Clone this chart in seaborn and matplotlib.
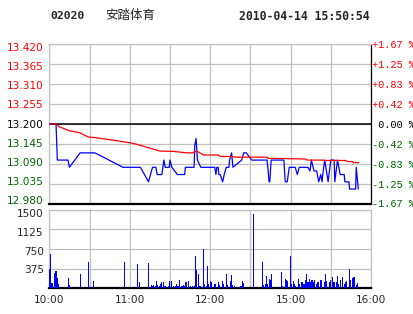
import numpy as np
import pandas as pd
import matplotlib
matplotlib.use("Agg")
import matplotlib.pyplot as plt
import matplotlib.transforms as mtransforms
import seaborn as sns

# ---------------- data ----------------
code = "02020"
name = "安踏体育"
stamp = "2010-04-14 15:50:54"
prev_close = 13.200
price_ticks = [12.980, 13.035, 13.090, 13.145, 13.200, 13.255, 13.310, 13.365, 13.420]
vol_ticks = [0, 375, 750, 1125, 1500]
vol_tick_labels = ["", "375", "750", "1125", "1500"]
time_grid = [0, 30, 60, 90, 120, 150, 180, 210, 240]
time_labels = ["10:00", "", "11:00", "", "12:00", "", "15:00", "", "16:00"]

price_min = [0, 5, 6, 14, 15, 23, 34, 55, 68, 74,
             77, 79.5, 80.5, 84, 85.5, 86.5, 89.5, 90, 91.5, 95.5,
             101, 101.5, 108, 108.5, 109.5, 110.5, 113, 123.5, 124.3, 125,
             126, 126.5, 127.5, 129.3, 130.5, 132, 134, 134.5, 136, 137,
             143.5, 145, 147, 149, 151, 162.5, 164, 164.5, 165.5, 175,
             176, 177.5, 179, 183.5, 185, 186.5, 193, 194.5, 195.5, 197.5,
             199.5, 201, 202.5, 203.5, 204, 205.5, 208, 210, 212.5, 213,
             215, 217, 220, 220.5, 223.5, 224, 228.5, 229, 230.5]
price_val = [13.20, 13.20, 13.10, 13.10, 13.08, 13.12, 13.12, 13.08, 13.08, 13.04,
             13.08, 13.08, 13.06, 13.06, 13.10, 13.08, 13.08, 13.10, 13.08, 13.06,
             13.06, 13.08, 13.08, 13.14, 13.16, 13.10, 13.08, 13.08, 13.06, 13.08,
             13.08, 13.06, 13.06, 13.04, 13.06, 13.08, 13.08, 13.10, 13.12, 13.08,
             13.10, 13.12, 13.12, 13.11, 13.10, 13.10, 13.04, 13.04, 13.10, 13.10,
             13.04, 13.04, 13.08, 13.08, 13.06, 13.08, 13.08, 13.07, 13.10, 13.07,
             13.07, 13.04, 13.06, 13.04, 13.06, 13.10, 13.04, 13.10, 13.10, 13.04,
             13.10, 13.06, 13.06, 13.04, 13.04, 13.02, 13.02, 13.08, 13.02]

avg_min = [0, 5, 7.5, 15, 22.5, 28.8, 34.5, 47.5, 60, 65,
           75, 82.5, 92.5, 102.5, 107, 110, 115, 126, 127.5, 135,
           140, 162.5, 163, 177.5, 191, 192.5, 204, 205, 221, 222.5,
           226, 227, 231]
avg_val = [13.200, 13.200, 13.192, 13.181, 13.176, 13.164, 13.162, 13.155, 13.148, 13.144,
           13.133, 13.125, 13.124, 13.120, 13.120, 13.125, 13.114, 13.114, 13.110, 13.110,
           13.108, 13.108, 13.105, 13.104, 13.103, 13.100, 13.100, 13.099, 13.099, 13.096,
           13.096, 13.093, 13.093]

vol_min = [0, 1, 2, 4, 5, 6, 7, 14, 15, 23,
           29, 33, 56, 66, 67, 74, 76, 77, 78, 79,
           80, 81, 82, 83, 84, 85, 86, 87, 89, 90,
           91, 93, 94, 95, 96, 97, 99, 100, 101, 102,
           104, 105, 107, 108, 109, 110, 111, 112, 113, 115,
           116, 117, 118, 119, 120, 121, 123, 124, 126, 127,
           129, 130, 132, 133, 135, 136, 137, 138, 143, 144,
           145, 152, 159, 160, 161, 162, 163, 164, 165, 166,
           173, 174, 176, 177, 178, 180, 181, 182, 183, 184,
           186, 187, 188, 189, 190, 191, 192, 193, 194, 195,
           196, 197, 198, 199, 200, 201, 202, 203, 205, 206,
           207, 209, 210, 211, 212, 213, 214, 215, 216, 217,
           219, 220, 221, 222, 224, 225, 226, 227, 228, 229,
           230]
vol_val = [369, 649, 102, 293, 331, 204, 83, 191, 64, 273,
           502, 134, 502, 464, 114, 483, 64, 51, 64, 51,
           140, 64, 51, 89, 114, 114, 45, 45, 45, 140,
           140, 45, 45, 89, 45, 153, 45, 64, 45, 114,
           140, 45, 45, 45, 617, 350, 273, 45, 45, 750,
           83, 45, 426, 76, 140, 121, 83, 83, 121, 64,
           140, 83, 273, 64, 140, 254, 64, 45, 45, 140,
           102, 1418, 502, 64, 83, 235, 83, 178, 159, 273,
           312, 45, 178, 159, 146, 617, 83, 140, 83, 45,
           178, 83, 121, 115, 83, 159, 273, 121, 178, 121,
           159, 121, 159, 83, 121, 121, 159, 159, 121, 273,
           140, 121, 159, 216, 121, 121, 121, 235, 83, 159,
           216, 83, 121, 140, 369, 159, 197, 216, 216, 64,
           102]

price_df = pd.DataFrame({"minute": price_min, "price": price_val})
avg_df = pd.DataFrame({"minute": avg_min, "avg": avg_val})
vol_df = pd.DataFrame({"minute": vol_min, "volume": vol_val})

# ---------------- styling ----------------
sns.set_style("white")
plt.rcParams["font.family"] = ["DejaVu Sans", "Noto Sans CJK SC"]

GRID = "#C0C0C0"
RED = "#FF0000"
GREEN = "#006400"
BLUE = "#0000FF"

W, H = 414, 314
DPI = 100
fig = plt.figure(figsize=(W / DPI, H / DPI), dpi=DPI)
fig.patch.set_facecolor("white")


def shift_px(label, dy_px):
    """shift a tick label down by dy_px pixels"""
    off = mtransforms.ScaledTranslation(0, -dy_px / DPI, fig.dpi_scale_trans)
    label.set_transform(label.get_transform() + off)


left_px, right_px = 49.3, 371.0
ax = fig.add_axes([left_px / W, 1 - 203.5 / H, (right_px - left_px) / W, (203.5 - 44.3) / H])
axv = fig.add_axes([left_px / W, 1 - 288.3 / H, (right_px - left_px) / W, (288.3 - 209.7) / H])

# ---- price panel ----
sns.lineplot(data=price_df, x="minute", y="price", ax=ax, color=BLUE, lw=0.9,
             estimator=None, sort=False, zorder=3)
sns.lineplot(data=avg_df, x="minute", y="avg", ax=ax, color=RED, lw=0.9,
             estimator=None, sort=False, zorder=4)
ax.axhline(prev_close, color="black", lw=1.1, zorder=2)
ax.set_xlim(0, 240)
ax.set_ylim(price_ticks[0], price_ticks[-1])
ax.set_xticks(time_grid)
ax.set_xticklabels([])
ax.set_yticks(price_ticks)
ax.set_yticklabels([f"{v:.3f}" for v in price_ticks])
ax.grid(True, color=GRID, lw=0.9, zorder=0)
ax.set_axisbelow(True)
ax.tick_params(axis="both", length=0)
ax.tick_params(axis="y", pad=4, labelsize=7.6)
n = len(price_ticks)
for i, (lbl, v) in enumerate(zip(ax.get_yticklabels(), price_ticks)):
    lbl.set_color(RED if v > prev_close else ("black" if v == prev_close else GREEN))
    k = n - 1 - i  # index from top
    shift_px(lbl, 2.4 - 0.7 * k)
ax.set_xlabel("")
ax.set_ylabel("")
for s in ["left", "top"]:
    ax.spines[s].set_color(GRID)
    ax.spines[s].set_linewidth(0.9)
ax.spines["right"].set_color("black")
ax.spines["right"].set_linewidth(0.9)
ax.spines["bottom"].set_color("black")
ax.spines["bottom"].set_linewidth(1.6)

# right percent axis
ax2 = ax.twinx()
ax2.set_ylim(ax.get_ylim())
ax2.set_yticks(price_ticks)
pct_labels = []
for v in price_ticks:
    p = (v - prev_close) / prev_close * 100
    if abs(p) < 0.005:
        pct_labels.append(" 0.00 %")
    else:
        pct_labels.append(f"{'+' if p > 0 else '-'}{abs(p):.2f} %")
ax2.set_yticklabels(pct_labels, family="Liberation Mono", fontsize=7.4)
for i, (lbl, v) in enumerate(zip(ax2.get_yticklabels(), price_ticks)):
    lbl.set_color(RED if v > prev_close else ("black" if v == prev_close else GREEN))
    k = n - 1 - i
    shift_px(lbl, 2.4 - 0.7 * k)
ax2.tick_params(axis="y", length=0, pad=1)
for s in ax2.spines.values():
    s.set_visible(False)

# ---- volume panel ----
sns.histplot(data=vol_df, x="minute", weights="volume", discrete=True, shrink=0.8,
             color=BLUE, alpha=1, linewidth=0, ax=axv, zorder=3)
axv.set_xlim(0, 240)
axv.set_ylim(0, 1500)
axv.set_xticks(time_grid)
axv.set_xticklabels(time_labels)
axv.set_yticks(vol_ticks)
axv.set_yticklabels(vol_tick_labels)
axv.grid(True, color=GRID, lw=0.9, zorder=0)
axv.set_axisbelow(True)
axv.tick_params(axis="both", length=0, labelsize=7.6)
axv.tick_params(axis="x", pad=5)
axv.tick_params(axis="y", pad=4)
vol_offsets = [0, 0.3, 1.7, 3.0, 3.6]
for lbl, d in zip(axv.get_yticklabels(), vol_offsets):
    shift_px(lbl, d)
axv.set_xlabel("")
axv.set_ylabel("")
for s in ["left", "top", "right"]:
    axv.spines[s].set_color(GRID)
    axv.spines[s].set_linewidth(0.9)
axv.spines["bottom"].set_color("black")
axv.spines["bottom"].set_linewidth(1.6)

# ---- header ----
fig.text(50 / W, 1 - 16 / H, code, family="DejaVu Sans Mono", weight="bold",
         fontsize=8.2, va="center", ha="left")
fig.text(105 / W, 1 - 16 / H, name, family=["Noto Sans CJK SC", "DejaVu Sans"],
         fontsize=9, va="center", ha="left")
fig.text(370 / W, 1 - 16 / H, stamp, family="DejaVu Sans Mono", weight="bold",
         fontsize=8.3, va="center", ha="right")

fig.savefig("out.png", dpi=DPI, facecolor="white")
